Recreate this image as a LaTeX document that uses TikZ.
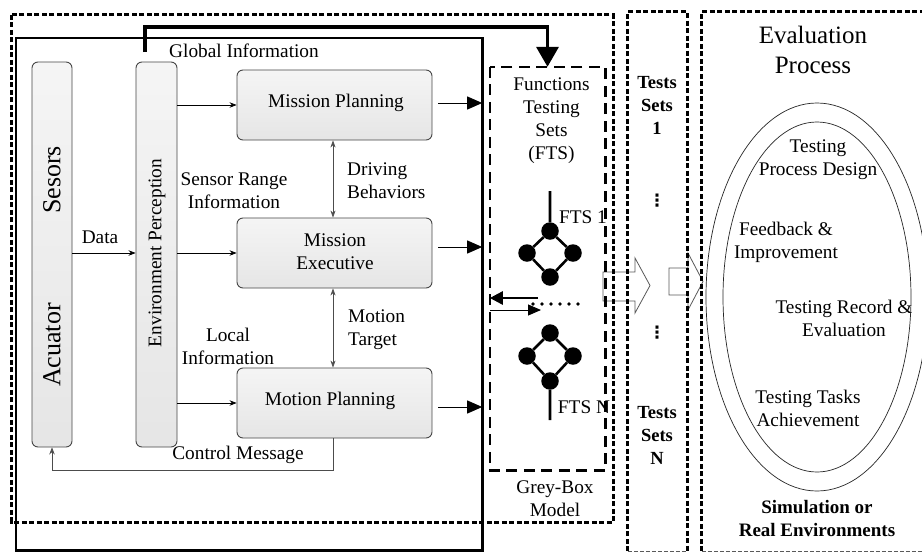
\documentclass[tikz,border=0pt]{standalone}
\usepackage{fontspec}
\setmainfont{Liberation Serif}
\newfontfamily\symfont{DejaVu Sans}
\usetikzlibrary{arrows.meta,calc}
\begin{document}
\begin{tikzpicture}[x=1pt,y=-1pt,
  txt/.style={font=\fontsize{19.3}{23}\selectfont, align=center, inner sep=0pt},
  bigtxt/.style={font=\fontsize{25}{30}\selectfont, align=center, inner sep=0pt},
  boldtxt/.style={font=\bfseries\fontsize{18.5}{23}\selectfont, align=center, inner sep=0pt},
  vdotstxt/.style={font=\symfont\bfseries\fontsize{17}{20}\selectfont, inner sep=0pt},
  bar/.style={draw=gray!55!black, line width=0.9pt, rounded corners=6pt,
    top color=gray!8, bottom color=gray!20, inner sep=0pt},
  blockbox/.style={bar, minimum width=195pt, minimum height=70pt},
  dotline/.style={line width=3pt, dash pattern=on 5pt off 2.5pt},
  longdash/.style={line width=2.6pt, dash pattern=on 11pt off 6.5pt},
  thinline/.style={gray!70!black, line width=0.5pt, dash pattern=on 4pt off 2pt},
  thinarrow/.style={line width=0.7pt, -{Stealth[length=7pt,width=5.5pt]}},
  grayarrow/.style={gray!60!black, line width=0.7pt, {Stealth[length=7pt,width=5pt]}-{Stealth[length=7pt,width=5pt]}},
  bigarrow/.style={line width=0.9pt, -{Triangle[length=15pt,width=13pt]}},
  fatarrow/.style={line width=3.5pt, -{Triangle[length=20pt,width=22pt]}},
  ftsdot/.style={circle, fill=black, minimum size=17.5pt, inner sep=0pt},
  ftsedge/.style={line width=2.6pt},
  hollow/.style={draw=gray!70!black, fill=white, line width=0.8pt, line join=miter}
]
\useasboundingbox (0,0) rectangle (922,552);
\clip (0,0) rectangle (922,552);
\fill[white] (0,0) rectangle (922,552);

% ---- frames (invisible nodes, outlines drawn below) ----
\node[minimum width=601pt, minimum height=507pt, inner sep=0pt] (outer) at (312.5,268.5) {};
\node[minimum width=466pt, minimum height=512pt, inner sep=0pt] (ads) at (249,294) {};
\node[minimum width=115pt, minimum height=403pt, inner sep=0pt] (fts) at (547.5,268.5) {};
\node[minimum width=59pt, minimum height=539pt, inner sep=0pt] (tests) at (657.5,281.5) {};
\node[minimum width=240pt, minimum height=539pt, inner sep=0pt] (evalbox) at (822,281.5) {};

% ---- hollow block arrows between the stages ----
\path[hollow] (603,272) -- (635,272) -- (635,258) -- (650,285.5) -- (635,313) -- (635,301) -- (603,301) -- cycle;
\path[hollow] (669,268) -- (688,268) -- (688,253) -- (703,281.5) -- (688,310) -- (688,295) -- (669,295) -- cycle;

% ---- solid frame of the automated driving system ----
\draw[line width=2.6pt] (ads.north west) rectangle (ads.south east);

% ---- vertical bars ----
\node[bar, minimum width=40pt, minimum height=385pt] (sens) at (52,254.5) {};
\node[bar, minimum width=41pt, minimum height=385pt] (env) at (156.5,254.5) {};
\node[txt, font=\fontsize{26}{30}\selectfont, rotate=90] at (52,180) {Sesors};
\node[txt, font=\fontsize{26}{30}\selectfont, rotate=90] at (52,345) {Acuator};
\node[txt, rotate=90] at (157,253) {Environment Perception};

% ---- planning boxes ----
\node[blockbox] (mp) at (334.5,105) {};
\node[blockbox] (me) at (334.5,253) {};
\node[blockbox] (mo) at (334.5,403) {};
\node[txt] at (336,103) {Mission Planning};
\node[txt] at (335,252) {Mission\\Executive};
\node[txt] at (330,401) {Motion Planning};

% ---- links inside the system ----
\draw[thinarrow] (env.east |- mp.west) -- (mp.west);
\draw[thinarrow] (env.east |- me.west) -- (me.west);
\draw[thinarrow] (env.east |- mo.west) -- (mo.west);
\draw[thinarrow] (sens.east |- me.west) -- (env.west |- me.west);
\draw[grayarrow] ($(mp.south)+(-1.5,0)$) -- ($(me.north)+(-1.5,0)$);
\draw[grayarrow] ($(me.south)+(-1.5,0)$) -- ($(mo.north)+(-1.5,0)$);
\draw[thinarrow, gray!60!black] ($(mo.south)+(-1.5,0)$) -- ++(0,32) -| (sens.south);

\node[txt] at (244,51) {Global Information};
\node[txt] at (100,237) {Data};
\node[txt] at (234,191) {Sensor Range\\Information};
\node[txt] at (228,346) {Local\\Information};
\node[txt] at (238,455) {Control Message};
\node[txt, align=left, anchor=west] at (347,181) {Driving\\Behaviors};
\node[txt, align=left, anchor=west] at (348,330) {Motion\\Target};

% ---- outputs towards the testing sets ----
\draw[bigarrow] ($(mp.east)+(6,-2)$) -- (ads.east |- 0,103);
\draw[bigarrow] ($(me.east)+(6,-6)$) -- (ads.east |- 0,247);
\draw[bigarrow] ($(mo.east)+(6,4)$) -- (ads.east |- 0,407);

% global information flow
\coordinate (gi) at (145,52);
\draw[fatarrow] (gi) |- ($(fts.north)+(0,-40)$) -- (fts.north);

% ---- functions testing sets ----
\draw[longdash] (fts.north west) rectangle (fts.south east);
\node[txt] at (551.5,120.5) {Functions\\Testing\\Sets\\(FTS)};

\node[ftsdot] (t1) at (550,231) {};
\node[ftsdot] (l1) at (527,253) {};
\node[ftsdot] (r1) at (573,253) {};
\node[ftsdot] (b1) at (550,277) {};
\coordinate (s1) at (550,191);
\draw[ftsedge] (s1) -- (t1) -- (l1) -- (b1) -- (r1) -- (t1);

\node[ftsdot] (t2) at (550,333) {};
\node[ftsdot] (l2) at (527,356) {};
\node[ftsdot] (r2) at (573,356) {};
\node[ftsdot] (b2) at (550,381) {};
\coordinate (s2) at (550,420);
\draw[ftsedge] (s2) -- (b2) -- (l2) -- (t2) -- (r2) -- (b2);

\node[txt] at (583,217) {FTS 1};
\node[txt] at (584,407) {FTS N};

\coordinate (ia) at (538,298);
\coordinate (ib) at (541,310);
\draw[line width=2.6pt, -{Triangle[length=13pt,width=13pt]}] (ia) -- (fts.west |- ia);
\draw[line width=1pt, -{Triangle[length=13pt,width=11pt]}] (fts.west |- ib) -- (ib);
\draw[line width=3.6pt, line cap=round, dash pattern=on 0pt off 9pt] (533,304) -- (579,304);

\node[txt] at (555,499) {Grey-Box\\Model};

% ---- outer dotted frame ----
\draw[dotline] (outer.north west) rectangle (outer.south east);

% ---- tests sets column ----
\draw[dotline] (tests.south west) -- (tests.north west) -- (tests.north east) -- (tests.south east);
\draw[thinline] (tests.south west) -- (tests.south east);
\node[boldtxt] at (657,105) {Tests\\Sets\\1};
\node[vdotstxt] at (657,201) {⋮};
\node[vdotstxt] at (657,333) {⋮};
\node[boldtxt] at (657,435) {Tests\\Sets\\N};

% ---- evaluation process ----
\draw[dotline] (evalbox.south west) -- (evalbox.north west) -- (evalbox.north east);
\draw[thinline] (evalbox.south west) -- (evalbox.south east);
\node[bigtxt] at (813,50) {Evaluation\\Process};
\draw[line width=0.7pt, gray!30!black] (817,297) ellipse [x radius=111, y radius=194];
\draw[line width=0.7pt, gray!30!black] (817,297) ellipse [x radius=94, y radius=175];
\node[txt] at (818,159.5) {Testing\\Process Design};
\node[txt] at (786,242) {Feedback \&\\Improvement};
\node[txt] at (844,318) {Testing Record \&\\Evaluation};
\node[txt] at (808,408.5) {Testing Tasks\\Achievement};
\node[txt, font=\bfseries\fontsize{19}{23}\selectfont] at (817,518.5) {Simulation or\\Real Environments};
\end{tikzpicture}
\end{document}
